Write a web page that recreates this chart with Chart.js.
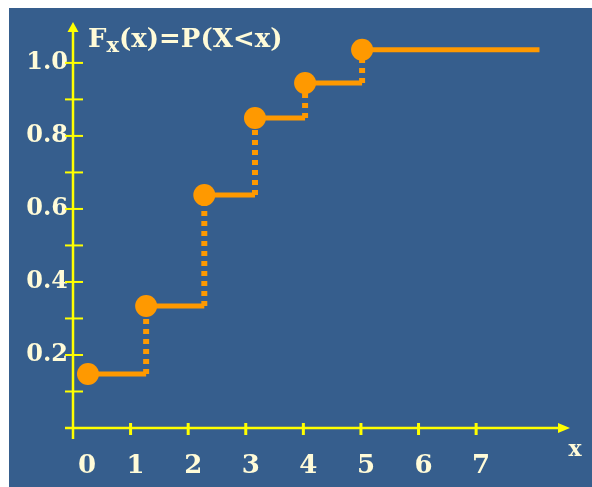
<!DOCTYPE html>
<html>
<head>
<meta charset="utf-8">
<script src="https://cdn.jsdelivr.net/npm/chart.js@4.4.0/dist/chart.umd.min.js"></script>
<style>
  html, body { margin: 0; padding: 0; background: #fff; }
  #box { width: 592px; height: 487px; }
</style>
</head>
<body>
<div id="box"><canvas id="cdf"></canvas></div>
<script>
// valores
const xLabels = ['0', '1', '2', '3', '4', '5', '6', '7'];
const yLabels = ['0.2', '0.4', '0.6', '0.8', '1.0'];
const jumpX = [0.26, 1.27, 2.28, 3.16, 4.03, 5.02];
const cdfY = [0.148, 0.334, 0.638, 0.849, 0.945, 1.036];
const lastX = 8.1;

const azul = '#365e8d';
const laranja = '#ff9900';
const amarelo = '#ffff00';
const creme = '#fffbd8';
const fonte = '"DejaVu Serif", serif';

// degraus: horizontal ate o proximo salto, depois vertical
const degraus = [];
jumpX.forEach((x, i) => {
  degraus.push({x: x, y: cdfY[i]});
  const prox = i < jumpX.length - 1 ? jumpX[i + 1] : lastX;
  degraus.push({x: prox, y: cdfY[i]});
});
const pontos = jumpX.map((x, i) => ({x: x, y: cdfY[i]}));

const fundo = {
  id: 'fundo',
  beforeDraw(chart) {
    const c = chart.ctx;
    c.save();
    c.fillStyle = '#fff';
    c.fillRect(0, 0, chart.width, chart.height);
    c.fillStyle = azul;
    c.fillRect(9, 8, chart.width - 9, chart.height - 8);
    c.restore();
  }
};

const eixos = {
  id: 'eixos',
  beforeDatasetsDraw(chart) {
    const c = chart.ctx;
    const xs = chart.scales.x, ys = chart.scales.y;
    const x0 = xs.getPixelForValue(0);
    const y0 = ys.getPixelForValue(0);
    const top = chart.chartArea.top;
    const right = chart.chartArea.right;
    c.save();
    c.strokeStyle = amarelo;
    c.fillStyle = amarelo;
    // eixo y
    c.lineWidth = 2.5;
    c.beginPath();
    c.moveTo(x0, y0 + 11);
    c.lineTo(x0, top + 8);
    c.stroke();
    c.beginPath();
    c.moveTo(x0, top);
    c.lineTo(x0 - 5.5, top + 10);
    c.lineTo(x0 + 5.5, top + 10);
    c.closePath();
    c.fill();
    // eixo x
    c.beginPath();
    c.moveTo(x0 - 8, y0);
    c.lineTo(right - 8, y0);
    c.stroke();
    c.beginPath();
    c.moveTo(right, y0);
    c.lineTo(right - 12, y0 - 5);
    c.lineTo(right - 12, y0 + 5);
    c.closePath();
    c.fill();
    // marcas do eixo y
    c.lineWidth = 2;
    ys.ticks.forEach(t => {
      const k = Math.round(t.value * 10);
      if (k < 1 || k > 10 || Math.abs(t.value * 10 - k) > 1e-6) return;
      const p = ys.getPixelForValue(t.value);
      c.beginPath();
      c.moveTo(x0 - 8, p);
      c.lineTo(x0 + 10, p);
      c.stroke();
    });
    // marcas do eixo x
    c.lineWidth = 3;
    xs.ticks.forEach(t => {
      if (!Number.isInteger(t.value) || t.value < 1 || t.value > 7) return;
      const p = xs.getPixelForValue(t.value);
      c.beginPath();
      c.moveTo(p, y0 - 5);
      c.lineTo(p, y0 + 7);
      c.stroke();
    });
    c.restore();
  },
  afterDraw(chart) {
    const c = chart.ctx;
    c.save();
    c.fillStyle = creme;
    c.textBaseline = 'alphabetic';
    let px = 88;
    c.font = 'bold 26px ' + fonte;
    c.fillText('F', px, 47);
    px += c.measureText('F').width;
    c.font = 'bold 21px ' + fonte;
    c.fillText('x', px, 52);
    px += c.measureText('x').width;
    c.font = 'bold 26px ' + fonte;
    c.fillText('(x)=P(X<x)', px, 47);
    c.font = 'bold 22px ' + fonte;
    c.textAlign = 'center';
    c.fillText('x', 575, 456);
    c.restore();
  }
};

new Chart(document.getElementById('cdf'), {
  type: 'scatter',
  data: {
    datasets: [
      {
        data: pontos,
        showLine: false,
        pointRadius: 11,
        pointBorderWidth: 0,
        pointBackgroundColor: laranja,
        clip: false
      },
      {
        data: degraus,
        showLine: true,
        pointRadius: 0,
        borderColor: laranja,
        borderWidth: 5,
        borderCapStyle: 'butt',
        clip: false,
        segment: {
          borderDash: ctx => ctx.p0.parsed.x === ctx.p1.parsed.x ? [5, 5] : undefined,
          borderWidth: ctx => ctx.p0.parsed.x === ctx.p1.parsed.x ? 6 : 5
        }
      }
    ]
  },
  options: {
    responsive: true,
    maintainAspectRatio: false,
    animation: false,
    events: [],
    layout: {padding: {top: 22, right: 22, left: 0, bottom: 0}},
    plugins: {legend: {display: false}, tooltip: {enabled: false}},
    scales: {
      x: {
        type: 'linear',
        min: 0,
        max: 8.63,
        grid: {display: false, drawTicks: false},
        border: {display: false},
        ticks: {
          stepSize: 1,
          padding: 23,
          labelOffset: 5,
          color: creme,
          font: {family: fonte, size: 26, weight: 'bold'},
          maxRotation: 0,
          autoSkip: false,
          // o "0" fica um pouco mais a direita na figura
          callback: v => (Number.isInteger(v) && v <= 7) ? (v === 0 ? '  ' : '') + xLabels[v] : ''
        },
        afterFit: s => {
          s.height = 59;
          s.paddingLeft = 0; s.paddingRight = 0;
        }
      },
      y: {
        type: 'linear',
        min: 0,
        max: 1.112,
        grid: {display: false, drawTicks: false},
        border: {display: false},
        ticks: {
          stepSize: 0.1,
          padding: 5,
          color: creme,
          font: {family: fonte, size: 24, weight: 'bold'},
          autoSkip: false,
          callback: v => {
            const k = Math.round(v * 10);
            if (Math.abs(v * 10 - k) > 1e-6 || k < 2 || k > 10 || k % 2) return '';
            return yLabels[k / 2 - 1];
          }
        },
        afterFit: s => {
          s.width = 73;
          s.paddingTop = 0; s.paddingBottom = 0;
        }
      }
    }
  },
  plugins: [fundo, eixos]
});
</script>
</body>
</html>
